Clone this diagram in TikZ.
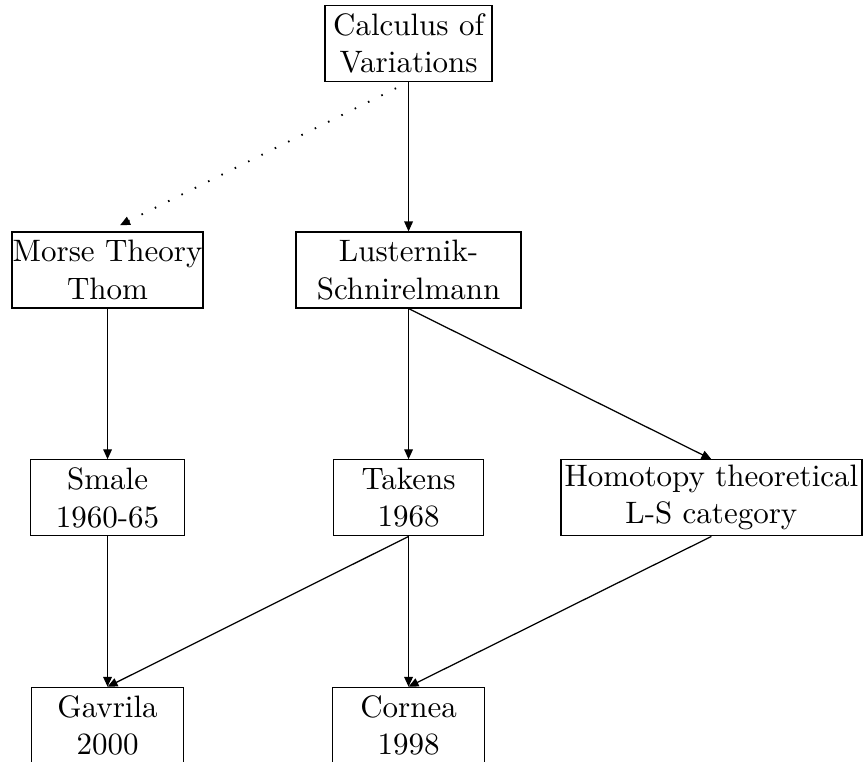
\documentclass[tikz,border=0pt]{standalone}
\usetikzlibrary{arrows.meta}
\tikzset{
        box/.style={draw, thin, inner sep=0pt, align=center,
          minimum height=24.5pt}, % every box has the same height
        link/.style={thin, -{Triangle[length=3.2pt, width=2.8pt]}}
    }

\begin{document}
\begin{tikzpicture}[
  x=1pt, y=1pt,
  weak link/.style={link, dash pattern=on 0.5pt off 4.3pt, line width=0.6pt,
    shorten <=4.5pt, shorten >=4.5pt},
]
% the page, the last row is cut by it
\useasboundingbox (0,0) rectangle (278.4,-245.5);
\node[box, minimum width=53.9pt] (calc)     at (131.8, -14.0) {Calculus of\\Variations};
\node[box, minimum width=61.6pt] (morse)    at ( 34.7, -87.1) {Morse Theory\\Thom};
\node[box, minimum width=72.6pt] (lust)     at (131.8, -87.1) {Lusternik-\\Schnirelmann};
\node[box, minimum width=49.7pt] (smale)    at ( 34.7,-160.6) {Smale\\1960-65};
\node[box, minimum width=48.4pt] (takens)   at (131.8,-160.6) {Takens\\1968};
\node[box, minimum width=97.1pt] (homotopy) at (229.5,-160.6) {Homotopy theoretical\\L-S category};
\node[box, minimum width=49pt]   (gavrila)  at ( 34.7,-234.0) {Gavrila\\2000};
\node[box, minimum width=49pt]   (cornea)   at (131.8,-234.0) {Cornea\\1998};
\draw[weak link] (calc.south) -- (morse.north);
\foreach \a/\b in {calc/lust, morse/smale, lust/takens, lust/homotopy,
                   smale/gavrila, takens/gavrila, takens/cornea, homotopy/cornea}
  \draw[link] (\a.south) -- (\b.north);
\end{tikzpicture}
\end{document}
